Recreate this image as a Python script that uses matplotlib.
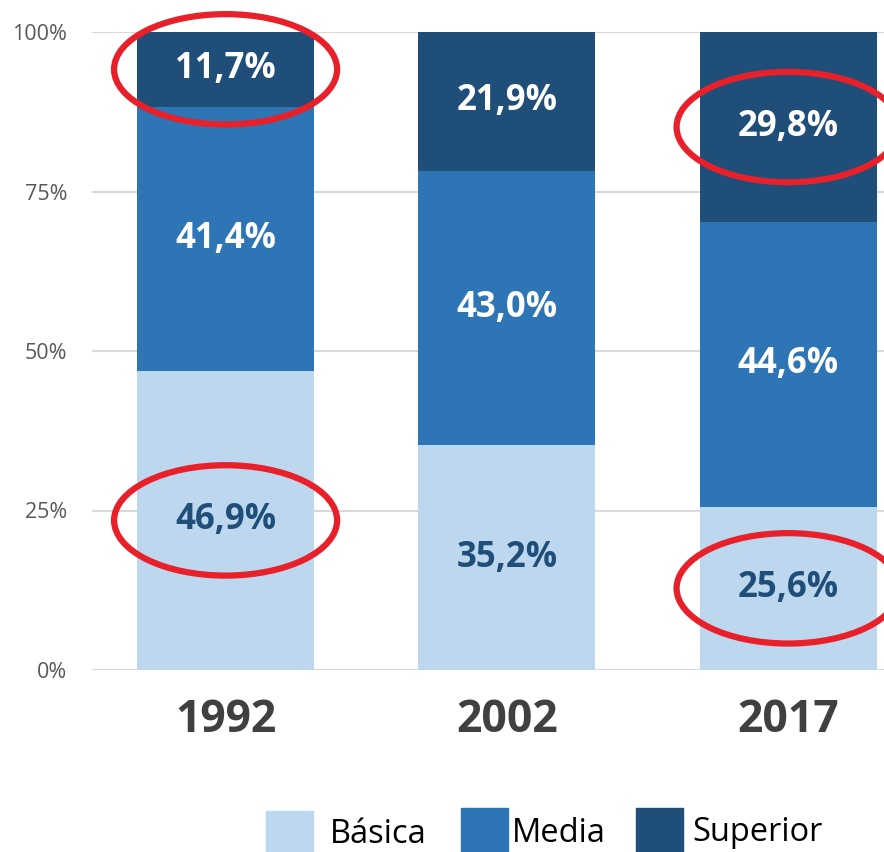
import matplotlib.pyplot as plt
from matplotlib.patches import Ellipse, Rectangle

# data
years = ["1992", "2002", "2017"]
basica = [46.9, 35.2, 25.6]
media = [41.4, 43.0, 44.6]
superior = [11.7, 21.9, 29.8]
series_names = ["Básica", "Media", "Superior"]
series_colors = ["#BDD7EE", "#2E75B6", "#1F4E79"]
label_colors = ["#1F4E79", "white", "white"]
yticks = [0, 25, 50, 75, 100]

# highlighted segments: (year index, series index)
highlights = [(0, 2), (0, 0), (2, 2), (2, 0)]

plt.rcParams['font.family'] = ['Open Sans', 'DejaVu Sans']

W, H = 884, 852
fig = plt.figure(figsize=(W / 100, H / 100), dpi=100)
ax = fig.add_axes([92 / W, (H - 670) / H, 1 - 92 / W, 638 / H])

x = list(range(len(years)))
bw = 0.63
series = [basica, media, superior]
bottoms = [0.0] * len(years)
seg_centers = []
for s, vals in enumerate(series):
    ax.bar(x, vals, bw, bottom=bottoms, color=series_colors[s], zorder=2)
    centers = []
    for i, v in enumerate(vals):
        cy = bottoms[i] + v / 2
        centers.append(cy)
        ax.text(x[i], cy, f"{v:.1f}%".replace(".", ","), ha="center", va="center",
                color=label_colors[s], fontsize=25, fontweight="bold", zorder=4)
    seg_centers.append(centers)
    bottoms = [b + v for b, v in zip(bottoms, vals)]

# red ellipses around highlighted values
for i, s in highlights:
    e = Ellipse((x[i], seg_centers[s][i]), 0.793, 17.3, fill=False,
                edgecolor="#E8202A", lw=4.5, zorder=5, clip_on=False)
    ax.add_patch(e)

ax.set_xlim(-0.475, 2.341)
ax.set_ylim(0, 100)
ax.set_yticks(yticks)
ax.set_yticklabels([f"{t}%" for t in yticks], fontsize=15.5, color="#595959")
ax.set_xticks(x)
ax.set_xticklabels(years, fontsize=32, fontweight="bold", color="#404040")
ax.tick_params(axis="y", length=0, pad=18)
ax.tick_params(axis="x", length=0, pad=20)
ax.grid(axis="y", color="#D9D9D9", lw=1.5, zorder=1)
for sp in ax.spines.values():
    sp.set_visible(False)

# legend drawn by hand: square left, square top, text left, text baseline (pixels)
leg = [(266, 811, 330, 843), (461, 808, 512, 842), (636, 808, 692, 841)]
for (bx, by, tx, ty), name, col in zip(leg, series_names, series_colors):
    fig.add_artist(Rectangle((bx / W, 0), 47 / W, (H - by) / H,
                             transform=fig.transFigure, color=col))
    fig.text(tx / W, 1 - ty / H, name, fontsize=23.5, color="black",
             ha="left", va="baseline")

fig.savefig("out.png", dpi=100)
